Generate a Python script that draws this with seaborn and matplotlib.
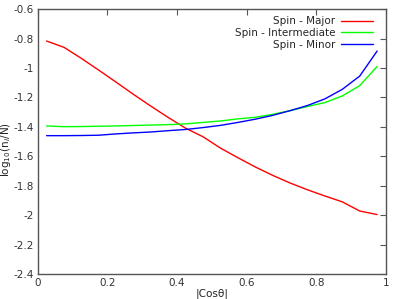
import numpy as np
import pandas as pd
import matplotlib
matplotlib.use("Agg")
import matplotlib.pyplot as plt
import seaborn as sns
from matplotlib.ticker import FuncFormatter

# bin centres of |cos theta|
cos_bins = [0.025, 0.075, 0.125, 0.175, 0.225, 0.275, 0.325, 0.375, 0.425, 0.475,
            0.525, 0.575, 0.625, 0.675, 0.725, 0.775, 0.825, 0.875, 0.925, 0.975]

spin_major = [-0.817, -0.86, -0.935, -1.015, -1.097, -1.18, -1.26, -1.337, -1.41, -1.468,
              -1.545, -1.61, -1.673, -1.73, -1.782, -1.828, -1.87, -1.91, -1.972, -1.996]
spin_inter = [-1.394, -1.399, -1.398, -1.396, -1.394, -1.391, -1.388, -1.385, -1.38, -1.37,
              -1.36, -1.346, -1.335, -1.315, -1.29, -1.262, -1.235, -1.19, -1.12, -0.99]
spin_minor = [-1.46, -1.46, -1.459, -1.457, -1.448, -1.441, -1.435, -1.426, -1.418, -1.405,
              -1.39, -1.37, -1.348, -1.322, -1.29, -1.255, -1.21, -1.145, -1.055, -0.885]

labels = ["Spin - Major", "Spin - Intermediate", "Spin - Minor"]
colors = ["#ff0000", "#00ff00", "#0000ff"]

df = pd.concat([
    pd.DataFrame({"cos": cos_bins, "val": v, "series": lab})
    for v, lab in zip([spin_major, spin_inter, spin_minor], labels)
])

sns.set_style("white")
plt.rcParams["font.family"] = ["DejaVu Sans"]

fig = plt.figure(figsize=(3.99, 2.99), dpi=100)
ax = fig.add_axes([0.095, 0.0836, 0.872, 0.886])

sns.lineplot(data=df, x="cos", y="val", hue="series", hue_order=labels,
             palette=colors, linewidth=1.0, ax=ax)

ax.set_xlim(0, 1)
ax.set_ylim(-2.4, -0.6)
ax.set_xticks(np.arange(0, 1.01, 0.2))
ax.set_yticks(np.arange(-2.4, -0.59, 0.2))
fmt = FuncFormatter(lambda v, p: "%g" % round(v, 2))
ax.xaxis.set_major_formatter(fmt)
ax.yaxis.set_major_formatter(fmt)
ax.tick_params(direction="in", length=4, width=0.8, top=True, right=True,
               labelsize=7.5, colors="#555555", pad=3)
ax.tick_params(axis="both", labelcolor="#333333")
for s in ax.spines.values():
    s.set_color("#555555")
    s.set_linewidth(1.0)

ax.set_xlabel("|Cosθ|", fontsize=7.5, color="#222222", labelpad=0)
ax.set_ylabel(r"log$_{10}$(n$_i$/N)", fontsize=7.5, color="#222222")
ax.yaxis.set_label_coords(-0.071, 0.47)

ax.legend(loc="upper right", bbox_to_anchor=(0.983, 1.0), frameon=False,
          markerfirst=False, fontsize=7.5, handlelength=3.0, labelspacing=0.15,
          borderaxespad=0.3, handletextpad=0.6)

fig.savefig("out.png", dpi=100)
